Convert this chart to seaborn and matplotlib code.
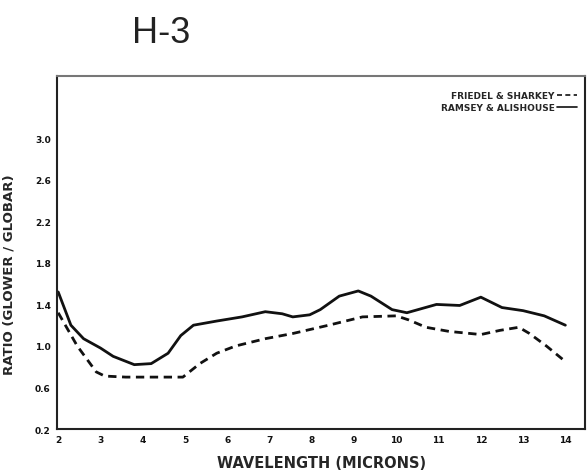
import matplotlib
matplotlib.use("Agg")
import matplotlib.pyplot as plt
import seaborn as sns
import pandas as pd

# Ramsey & Alishouse (solid)
wl_ramsey = [2.0, 2.3, 2.6, 3.0, 3.3, 3.8, 4.2, 4.6, 4.9, 5.2, 5.75, 6.35, 6.9, 7.3,
             7.55, 7.95, 8.2, 8.65, 9.1, 9.4, 9.9, 10.25, 10.95, 11.5, 12.0, 12.5,
             13.0, 13.5, 14.0]
ratio_ramsey = [1.52, 1.2, 1.07, 0.98, 0.9, 0.82, 0.83, 0.93, 1.1, 1.2, 1.24, 1.28,
                1.33, 1.31, 1.28, 1.3, 1.35, 1.48, 1.53, 1.48, 1.35, 1.32, 1.4, 1.39,
                1.47, 1.37, 1.34, 1.29, 1.2]

# Friedel & Sharkey (dashed)
wl_friedel = [2.0, 2.45, 2.9, 3.1, 3.6, 4.2, 4.95, 5.35, 5.75, 6.2, 6.9, 7.55, 8.4,
              9.2, 10.0, 10.3, 10.7, 11.25, 12.0, 12.45, 12.9, 13.15, 13.55, 14.0]
ratio_friedel = [1.32, 1.0, 0.75, 0.71, 0.7, 0.7, 0.7, 0.83, 0.93, 1.0, 1.07, 1.12,
                 1.2, 1.28, 1.29, 1.25, 1.18, 1.14, 1.11, 1.15, 1.18, 1.12, 1.0, 0.85]

x_ticks = list(range(2, 15))
y_ticks = [0.2, 0.6, 1.0, 1.4, 1.8, 2.2, 2.6, 3.0]

label_friedel = "FRIEDEL & SHARKEY"
label_ramsey = "RAMSEY & ALISHOUSE"

sns.set_style("white")
plt.rcParams['font.family'] = ['DejaVu Sans']

df = pd.concat([
    pd.DataFrame({"wl": wl_friedel, "ratio": ratio_friedel, "src": label_friedel}),
    pd.DataFrame({"wl": wl_ramsey, "ratio": ratio_ramsey, "src": label_ramsey}),
])

fig = plt.figure(figsize=(5.87, 4.77), dpi=100)
ax = fig.add_axes([0.097, 0.0985, 0.9, 0.74])

sns.lineplot(data=df, x="wl", y="ratio", hue="src", style="src",
             palette={label_friedel: "#111111", label_ramsey: "#111111"},
             dashes={label_friedel: (3, 2), label_ramsey: ""},
             linewidth=2.0, sort=False, ax=ax)

ax.set_xlim(1.97, 14.47)
ax.set_ylim(0.2, 3.6)
ax.set_xticks(x_ticks)
ax.set_xticklabels([str(t) for t in x_ticks], fontsize=6.5, fontweight="bold")
ax.set_yticks(y_ticks)
ax.set_yticklabels([f"{t:.1f}" for t in y_ticks], fontsize=6.5, fontweight="bold")
ax.tick_params(axis="both", direction="inout", length=5, width=1.2, pad=2, colors="#111111")

for s in ax.spines.values():
    s.set_color("#222222")
    s.set_linewidth(1.5)
ax.spines["top"].set_color("#777777")

ax.set_xlabel("WAVELENGTH (MICRONS)", fontsize=10.5, fontweight="bold", labelpad=8)
ax.set_ylabel("RATIO (GLOWER / GLOBAR)", fontsize=9.5, fontweight="bold")
ax.yaxis.set_label_coords(-0.078, 0.44)

leg = ax.legend(loc="upper right", bbox_to_anchor=(1.0, 0.98), frameon=False,
                markerfirst=False, handlelength=2.2, handletextpad=0.3,
                labelspacing=0.3, prop={"size": 6.5, "weight": "bold"})
for line in leg.get_lines():
    line.set_linewidth(1.2)

fig.text(0.225, 0.91, "H-3", fontsize=26, family="Liberation Sans", color="#222222")

fig.savefig("out.png", dpi=100)
